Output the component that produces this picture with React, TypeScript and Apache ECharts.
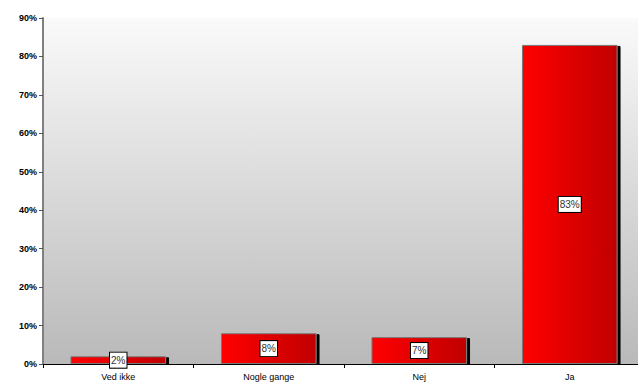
import React, { useEffect, useRef } from "react";
import * as echarts from "echarts";

const categories = ["Ved ikke", "Nogle gange", "Nej", "Ja"];
const values = [2, 8, 7, 83];
const yTicks = [0, 10, 20, 30, 40, 50, 60, 70, 80, 90];

export default function App() {
  const ref = useRef<HTMLDivElement>(null);
  useEffect(() => {
    const chart = echarts.init(ref.current!, null, { renderer: "svg" });
    chart.setOption({
      animation: false,
      backgroundColor: "#ffffff",
      grid: {
        left: 43,
        right: 0,
        top: 18,
        bottom: 21,
        show: true,
        borderWidth: 0,
        backgroundColor: new echarts.graphic.LinearGradient(0, 0, 0, 1, [
          { offset: 0, color: "#fafafa" },
          { offset: 1, color: "#b9b9b9" },
        ]),
      },
      xAxis: {
        type: "category",
        data: categories,
        axisLine: { lineStyle: { color: "#000", width: 1 } },
        axisTick: { show: true, alignWithLabel: false, length: 4, lineStyle: { color: "#000" } },
        axisLabel: { color: "#000", fontFamily: "Liberation Sans, Arial", fontSize: 9, margin: 8 },
        splitLine: { show: false },
      },
      yAxis: {
        type: "value",
        min: 0,
        max: 90,
        interval: 10,
        axisLine: { show: true, lineStyle: { color: "#808080", width: 2 } },
        axisTick: { show: true, length: 4, lineStyle: { color: "#555" } },
        axisLabel: {
          color: "#000",
          fontFamily: "Liberation Sans, Arial",
          fontSize: 9,
          fontWeight: "bold",
          margin: 6,
          formatter: (v: number) => (yTicks.includes(v) ? v + "%" : ""),
        },
        splitLine: { show: false },
      },
      series: [
        {
          type: "bar",
          data: values,
          barCategoryGap: "36.5%",
          itemStyle: {
            color: new echarts.graphic.LinearGradient(0, 0, 1, 0, [
              { offset: 0, color: "#ff0000" },
              { offset: 1, color: "#c00000" },
            ]),
            borderColor: "#7a7a7a",
            borderWidth: 1,
            shadowColor: "#000",
            shadowOffsetX: 3,
            shadowOffsetY: 1,
            shadowBlur: 0,
          },
          label: {
            show: true,
            position: "inside",
            formatter: "{c}%",
            color: "#333",
            fontFamily: "Liberation Sans, Arial",
            fontSize: 10,
            backgroundColor: "#fff",
            borderColor: "#000",
            borderWidth: 1,
            padding: [3, 1, 2, 1],
          },
        },
      ],
    });
    return () => chart.dispose();
  }, []);
  return (
    <div style={{ position: "absolute", left: 0, top: 0, width: 638, height: 385, overflow: "hidden" }}>
      <div ref={ref} style={{ width: 645, height: 385 }} />
    </div>
  );
}
